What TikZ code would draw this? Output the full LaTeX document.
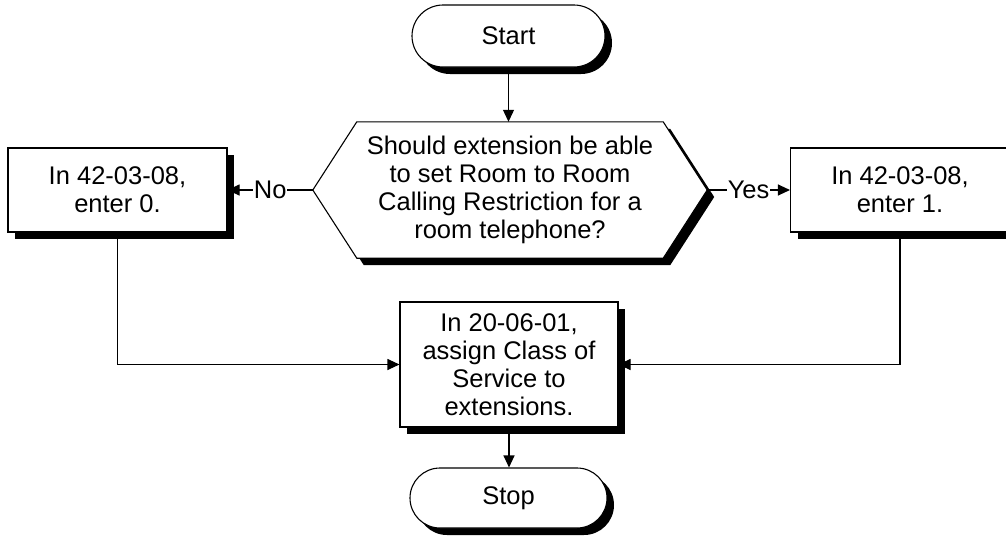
\documentclass[tikz,border=0pt]{standalone}
\usepackage{fontspec}
\setmainfont{Liberation Sans}
\usetikzlibrary{shapes.misc,shadows,arrows.meta,calc,backgrounds}
\begin{document}
\begin{tikzpicture}[x=1pt,y=-1pt,
  every node/.style={font=\fontsize{25.5}{28}\selectfont, align=center},
  shad/.style={drop shadow={shadow xshift=7pt,shadow yshift=-7pt,fill=black,opacity=1}},
  term/.style={rounded rectangle, draw, line width=1.1pt, fill=white, shad, minimum width=193pt, minimum height=62pt, inner sep=0pt},
  proc/.style={rectangle, draw, line width=1.1pt, fill=white, shad, inner sep=0pt},
  conn/.style={line width=1.1pt, -{Triangle[length=12pt,width=11pt]}},
  lab/.style={fill=white, inner sep=1pt}]
\useasboundingbox (0,0) rectangle (1006,539);
\clip (0,0) rectangle (1006,539);

\node[term] (start) at (508.5,36) {Start};
\node[inner sep=0pt, minimum width=394pt, minimum height=136pt] (dec) at (510,190)
  {Should extension be able\\to set Room to Room\\Calling Restriction for a\\room telephone?};
\begin{scope}[on background layer]
\path[draw, line width=1.1pt, fill=white, shad]
  (dec.west) -- ($(dec.north west)+(44,0)$) -- ($(dec.north east)+(-44,0)$)
  -- (dec.east) -- ($(dec.south east)+(-44,0)$) -- ($(dec.south west)+(44,0)$) -- cycle;
\end{scope}
\node[proc, minimum width=219pt, minimum height=84pt] (nob) at (117.5,190) {In 42-03-08,\\enter 0.};
\node[proc, minimum width=219pt, minimum height=84pt] (yesb) at (900,190) {In 42-03-08,\\enter 1.};
\node[proc, minimum width=218pt, minimum height=125pt] (cos) at (509,364.5)
  {In 20-06-01,\\assign Class of\\Service to\\extensions.};
\node[term, minimum width=197pt, minimum height=60pt] (stop) at (508.5,498) {Stop};

\draw[conn] (start.south) -- (start.south |- dec.north);
\draw[conn] (dec.west) -- node[lab] {No} (nob.east);
\draw[conn] (dec.east) -- node[lab] {Yes} (yesb.west);
\draw[conn] (nob.south) |- (cos.west);
\draw[conn] (yesb.south) |- (cos.east);
\draw[conn] (cos.south) -- (cos.south |- stop.north);
\end{tikzpicture}
\end{document}
